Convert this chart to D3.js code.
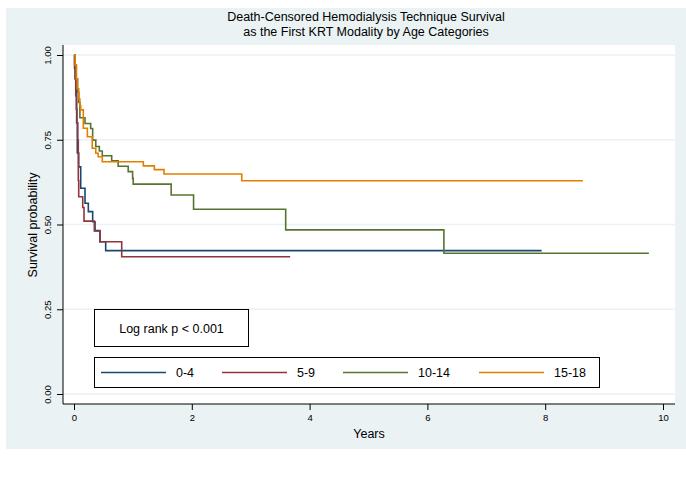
<!DOCTYPE html>
<html>
<head>
<meta charset="utf-8">
<script src="https://cdn.jsdelivr.net/npm/d3@7"></script>
<style>
  body { margin: 0; background: #fff; }
  text { font-family: "Liberation Sans", Arial, sans-serif; fill: #000; }
</style>
</head>
<body>
<div id="chart"></div>
<script>
// KM step data (time in years, survival after the event)
const groups = ['0-4', '5-9', '10-14', '15-18']
const colors = ['#1a476f', '#90353b', '#55752f', '#e37e00']

const t04 = [0, 0.01, 0.02, 0.03, 0.045, 0.056, 0.08, 0.114, 0.187, 0.243, 0.317, 0.357, 0.441, 0.538, 7.94]
const s04 = [1, 0.96, 0.93, 0.897, 0.80, 0.711, 0.67, 0.607, 0.5625, 0.538, 0.508, 0.482, 0.449, 0.423, 0.423]

const t59 = [0, 0.01, 0.02, 0.03, 0.04, 0.05, 0.064, 0.073, 0.08, 0.148, 0.17, 0.345, 0.441, 0.81, 3.67]
const s59 = [1, 0.97, 0.93, 0.88, 0.84, 0.80, 0.749, 0.63, 0.582, 0.55, 0.51, 0.481, 0.449, 0.405, 0.405]

const t1014 = [0, 0.02, 0.04, 0.06, 0.08, 0.10, 0.187, 0.283, 0.317, 0.37, 0.43, 0.48, 0.64, 0.75, 0.92, 0.995, 1.005, 1.65, 2.03, 3.594, 6.28, 9.76]
const s1014 = [1, 0.97, 0.93, 0.89, 0.86, 0.815, 0.798, 0.783, 0.749, 0.73, 0.717, 0.703, 0.688, 0.672, 0.656, 0.636, 0.619, 0.587, 0.545, 0.484, 0.415, 0.415]

const t1518 = [0, 0.02, 0.04, 0.06, 0.08, 0.10, 0.114, 0.158, 0.227, 0.31, 0.37, 0.41, 0.48, 1.177, 1.364, 1.528, 2.848, 8.64]
const s1518 = [1, 0.97, 0.93, 0.90, 0.87, 0.85, 0.838, 0.784, 0.759, 0.725, 0.71, 0.70, 0.685, 0.673, 0.662, 0.649, 0.629, 0.629]

const times = [t04, t59, t1014, t1518]
const survs = [s04, s59, s1014, s1518]

const xTicks = [0, 2, 4, 6, 8, 10]
const yTicks = [0, 0.25, 0.5, 0.75, 1]

const titleLines = ['Death-Censored Hemodialysis Technique Survival', 'as the First KRT Modality by Age Categories']

const drawChart = () => {

    const width = 686
    const height = 504

    // plot region in page pixels
    const plot = { left: 63, right: 675, top: 45, bottom: 404 }

    const svg = d3.select('#chart')
        .append('svg')
        .attr('width', width)
        .attr('height', height)

    // graph region background
    svg.append('rect')
        .attr('x', 6)
        .attr('y', 8)
        .attr('width', width - 6)
        .attr('height', 441)
        .attr('fill', '#eaf2f3')

    svg.append('rect')
        .attr('x', plot.left)
        .attr('y', plot.top)
        .attr('width', plot.right - plot.left)
        .attr('height', plot.bottom - plot.top)
        .attr('fill', '#fff')

    const xScale = d3.scaleLinear()
        .domain([0, 10])
        .range([74, 663])

    const yScale = d3.scaleLinear()
        .domain([0, 1])
        .range([394, 55])

    // grid lines
    svg.selectAll('.grid')
        .data(yTicks)
        .enter()
        .append('line')
            .attr('class', 'grid')
            .attr('x1', plot.left)
            .attr('x2', plot.right)
            .attr('y1', d => yScale(d))
            .attr('y2', d => yScale(d))
            .attr('stroke', '#eaf2f3')
            .attr('stroke-width', 1.5)

    // title
    svg.selectAll('.title')
        .data(titleLines)
        .enter()
        .append('text')
            .attr('class', 'title')
            .attr('x', 366)
            .attr('y', (d, i) => 21 + i * 15)
            .attr('text-anchor', 'middle')
            .attr('font-size', '12.5px')
            .text(d => d)

    // axes
    const xAxis = d3.axisBottom(xScale)
        .tickValues(xTicks)
        .tickSize(6)
        .tickPadding(4)
        .tickFormat(d3.format('d'))

    const yAxis = d3.axisLeft(yScale)
        .tickValues(yTicks)
        .tickSize(6)
        .tickFormat(d3.format('.2f'))

    const xGroup = svg.append('g')
        .attr('transform', `translate(0, ${plot.bottom})`)
        .call(xAxis)

    xGroup.select('.domain')
        .attr('d', `M${plot.left},0H${plot.right}`)
    xGroup.selectAll('text')
        .attr('font-size', '9.5px')
        .attr('font-family', '"Liberation Sans", Arial, sans-serif')

    const yGroup = svg.append('g')
        .attr('transform', `translate(${plot.left}, 0)`)
        .call(yAxis)

    yGroup.select('.domain')
        .attr('d', `M0,${plot.top}V${plot.bottom}`)
    yGroup.selectAll('text')
        .attr('font-size', '9.5px')
        .attr('font-family', '"Liberation Sans", Arial, sans-serif')
        .attr('transform', 'rotate(-90)')
        .attr('x', 0)
        .attr('y', -12.5)
        .attr('dy', 0)
        .style('text-anchor', 'middle')

    svg.selectAll('.domain, .tick line')
        .attr('stroke', '#000')

    // axis titles
    svg.append('text')
        .attr('x', 369)
        .attr('y', 438)
        .attr('text-anchor', 'middle')
        .attr('font-size', '12.5px')
        .text('Years')

    svg.append('text')
        .attr('transform', 'translate(37, 225) rotate(-90)')
        .attr('text-anchor', 'middle')
        .attr('font-size', '12.5px')
        .text('Survival probability')

    // survival curves
    const line = d3.line()
        .x(d => xScale(d[0]))
        .y(d => yScale(d[1]))
        .curve(d3.curveStepAfter)

    groups.forEach((g, i) => {
        const pts = times[i].map((t, j) => [t, survs[i][j]])
        svg.append('path')
            .datum(pts)
            .attr('d', line)
            .attr('fill', 'none')
            .attr('stroke', colors[i])
            .attr('stroke-width', 1.6)
    })

    // log rank box
    svg.append('rect')
        .attr('x', 94.5)
        .attr('y', 309.5)
        .attr('width', 154)
        .attr('height', 37)
        .attr('fill', '#fff')
        .attr('stroke', '#000')
        .attr('stroke-width', 1)

    svg.append('text')
        .attr('x', 171.5)
        .attr('y', 332.5)
        .attr('text-anchor', 'middle')
        .attr('font-size', '12.5px')
        .text('Log rank p < 0.001')

    // legend
    const legendX = [101, 222, 343, 479]
    const legend = svg.append('g')

    legend.append('rect')
        .attr('x', 94.5)
        .attr('y', 357.5)
        .attr('width', 505)
        .attr('height', 30)
        .attr('fill', '#fff')
        .attr('stroke', '#000')
        .attr('stroke-width', 1)

    legend.selectAll('.key')
        .data(groups)
        .enter()
        .append('line')
            .attr('x1', (d, i) => legendX[i])
            .attr('x2', (d, i) => legendX[i] + 65)
            .attr('y1', 372.5)
            .attr('y2', 372.5)
            .attr('stroke', (d, i) => colors[i])
            .attr('stroke-width', 1.6)

    legend.selectAll('.lab')
        .data(groups)
        .enter()
        .append('text')
            .attr('x', (d, i) => legendX[i] + 75)
            .attr('y', 377)
            .attr('font-size', '12.5px')
            .text(d => d)

}

drawChart()
</script>
</body>
</html>
